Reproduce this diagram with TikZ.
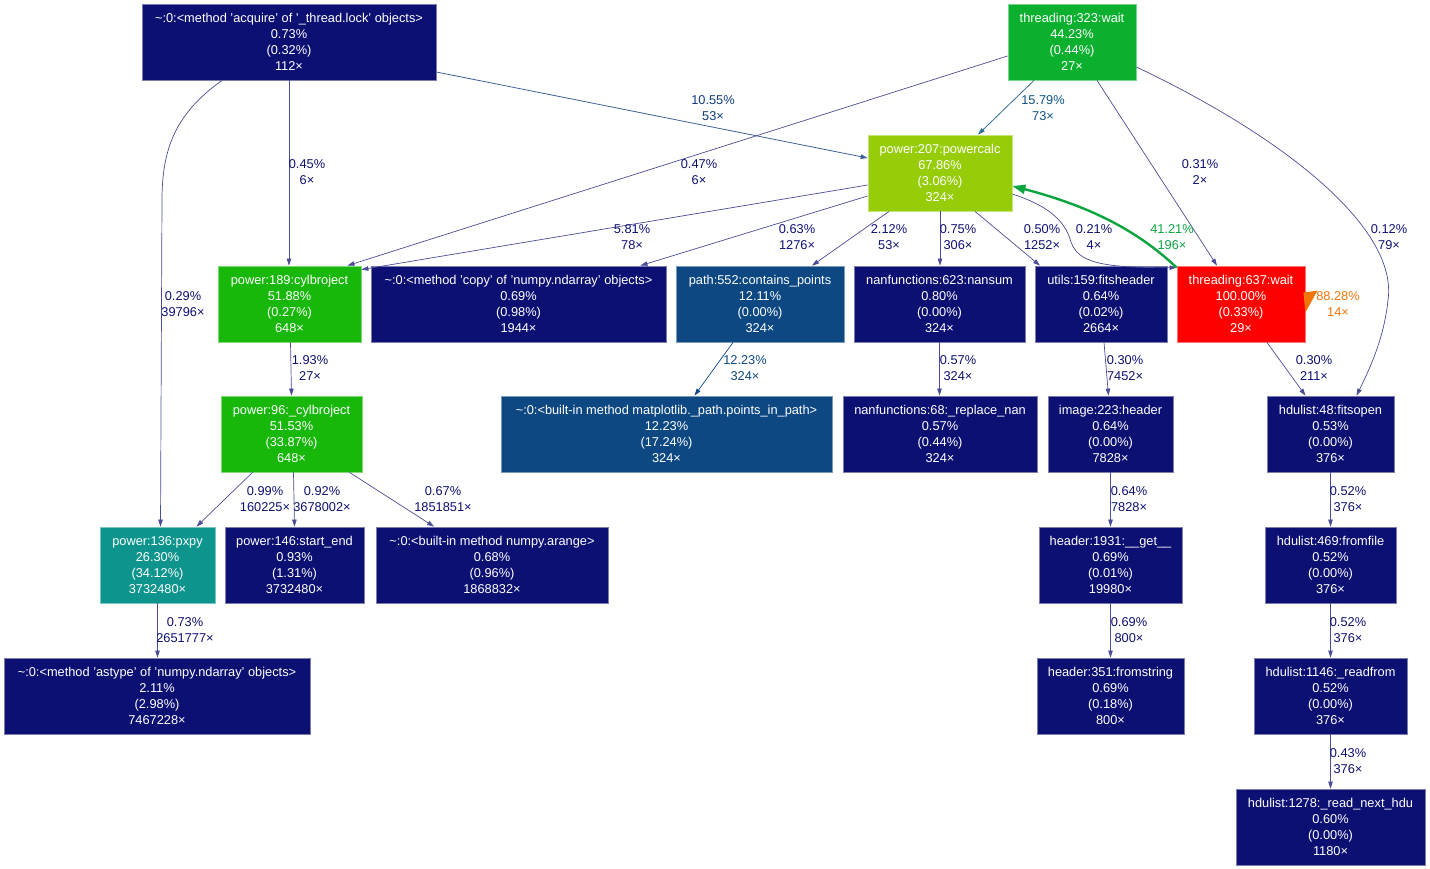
\documentclass[tikz,border=0pt]{standalone}
\usepackage{fontspec}
\setmainfont{Liberation Sans}
\usetikzlibrary{arrows.meta}
\definecolor{navy}{HTML}{0D1073}
\definecolor{gthr}{HTML}{0BB02F}
\definecolor{gpc}{HTML}{97CD08}
\definecolor{gcyl}{HTML}{18B80B}
\definecolor{bpath}{HTML}{0D4883}
\definecolor{tpx}{HTML}{0D948C}
\definecolor{rwait}{HTML}{FF0000}
\definecolor{eblueA}{HTML}{0D3A7E}
\definecolor{eblueB}{HTML}{0D5283}
\definecolor{egreen}{HTML}{0BA53F}
\definecolor{eorange}{HTML}{F07408}
\tikzset{
  fbox/.style={rectangle, draw=#1!55!white, fill=#1, line width=0.8pt, text=white,
    align=center, minimum height=76pt, inner sep=0pt,
    font=\fontsize{12.8}{16}\selectfont},
  elab/.style={align=center, inner sep=0pt, text=navy, font=\fontsize{12.8}{16}\selectfont},
  edge/.style={draw=navy!75!white, line width=0.7pt, -{Triangle[length=7pt,width=4.5pt]}},
}
\begin{document}
\begin{tikzpicture}[x=1pt,y=1pt]
\useasboundingbox (0,0) rectangle (1430,-869);
% nodes
\node[fbox=navy, minimum width=294pt] (acq) at (289,-42) {\textasciitilde:0:<method 'acquire' of '\_thread.lock' objects>\\0.73\%\\(0.32\%)\\112×};
\node[fbox=gthr, minimum width=128pt] (t323) at (1072,-42) {threading:323:wait\\44.23\%\\(0.44\%)\\27×};
\node[fbox=gpc, minimum width=144pt] (pc) at (940,-173) {power:207:powercalc\\67.86\%\\(3.06\%)\\324×};
\node[fbox=gcyl, minimum width=143pt] (cyl189) at (289.5,-304) {power:189:cylbroject\\51.88\%\\(0.27\%)\\648×};
\node[fbox=navy, minimum width=295pt] (copy) at (518.5,-304) {\textasciitilde:0:<method 'copy' of 'numpy.ndarray' objects>\\0.69\%\\(0.98\%)\\1944×};
\node[fbox=bpath, minimum width=168pt] (path) at (760,-304) {path:552:contains\_points\\12.11\%\\(0.00\%)\\324×};
\node[fbox=navy, minimum width=171pt] (nansum) at (939.5,-304) {nanfunctions:623:nansum\\0.80\%\\(0.00\%)\\324×};
\node[fbox=navy, minimum width=132pt] (utils) at (1101,-304) {utils:159:fitsheader\\0.64\%\\(0.02\%)\\2664×};
\node[fbox=rwait, minimum width=128pt] (t637) at (1241,-304) {threading:637:wait\\100.00\%\\(0.33\%)\\29×};
\node[fbox=gcyl, minimum width=141pt] (cyl96) at (291.5,-434) {power:96:\_cylbroject\\51.53\%\\(33.87\%)\\648×};
\node[fbox=bpath, minimum width=331pt] (pip) at (666.5,-434) {\textasciitilde:0:<built-in method matplotlib.\_path.points\_in\_path>\\12.23\%\\(17.24\%)\\324×};
\node[fbox=navy, minimum width=194pt] (rnan) at (940,-434) {nanfunctions:68:\_replace\_nan\\0.57\%\\(0.44\%)\\324×};
\node[fbox=navy, minimum width=125pt] (image) at (1110.5,-434) {image:223:header\\0.64\%\\(0.00\%)\\7828×};
\node[fbox=navy, minimum width=127pt] (fits) at (1330.5,-434) {hdulist:48:fitsopen\\0.53\%\\(0.00\%)\\376×};
\node[fbox=tpx, minimum width=115pt] (pxpy) at (157.5,-565) {power:136:pxpy\\26.30\%\\(34.12\%)\\3732480×};
\node[fbox=navy, minimum width=139pt] (start) at (294.5,-565) {power:146:start\_end\\0.93\%\\(1.31\%)\\3732480×};
\node[fbox=navy, minimum width=232pt] (arange) at (492,-565) {\textasciitilde:0:<built-in method numpy.arange>\\0.68\%\\(0.96\%)\\1868832×};
\node[fbox=navy, minimum width=143pt] (get) at (1110.5,-565) {header:1931:\_\_get\_\_\\0.69\%\\(0.01\%)\\19980×};
\node[fbox=navy, minimum width=131pt] (fromfile) at (1330.5,-565) {hdulist:469:fromfile\\0.52\%\\(0.00\%)\\376×};
\node[fbox=navy, minimum width=306pt] (astype) at (157,-696) {\textasciitilde:0:<method 'astype' of 'numpy.ndarray' objects>\\2.11\%\\(2.98\%)\\7467228×};
\node[fbox=navy, minimum width=147pt] (fromstring) at (1110.5,-696) {header:351:fromstring\\0.69\%\\(0.18\%)\\800×};
\node[fbox=navy, minimum width=153pt] (readfrom) at (1330.5,-696) {hdulist:1146:\_readfrom\\0.52\%\\(0.00\%)\\376×};
\node[fbox=navy, minimum width=189pt] (rnh) at (1330.5,-827) {hdulist:1278:\_read\_next\_hdu\\0.60\%\\(0.00\%)\\1180×};
% edges
\draw[edge, draw=eblueA!80!white, line width=0.8pt] ([yshift=-30]acq.east) -- ([yshift=15]pc.west);
\draw[edge] (acq.south) -- (cyl189.north -| acq.south);
\draw[edge] ([xshift=-67]acq.south) .. controls (178,-112) and (162,-145) .. (162,-200) -- ([xshift=3]pxpy.north);
\draw[edge, draw=eblueB!85!white, line width=0.8pt] ([xshift=-38]t323.south) -- ([xshift=38]pc.north);
\draw[edge] ([yshift=-14]t323.west) -- ([xshift=58]cyl189.north);
\draw[edge] ([xshift=25]t323.south) -- ([xshift=-24]t637.north);
\draw[edge] ([yshift=-25]t323.east) .. controls (1290,-140) and (1398,-230) .. (1388,-300) .. controls (1384,-340) and (1368,-372) .. ([xshift=26]fits.north);
\draw[edge] ([yshift=-12]pc.west) -- ([yshift=-4]cyl189.north east);
\draw[edge] ([yshift=-23]pc.west) -- ([xshift=122]copy.north);
\draw[edge] ([xshift=-51]pc.south) -- ([xshift=52]path.north);
\draw[edge] (pc.south) -- (nansum.north -| pc.south);
\draw[edge] ([xshift=35]pc.south) -- ([xshift=-61]utils.north);
\draw[edge] ([yshift=-21]pc.east) .. controls (1055,-208) and (1066,-225) .. (1071,-242) .. controls (1078,-262) and (1100,-268) .. ([yshift=-2]t637.north west);
\draw[draw=egreen, line width=2.4pt, -{Triangle[length=13pt,width=9pt]}] ([yshift=-2]t637.north west) .. controls (1135,-228) and (1085,-205) .. ([yshift=-13]pc.east);
\fill[eorange] ([shift={(-2,-27)}]t637.north east) -- ([shift={(12,-25)}]t637.north east) -- ([shift={(0,-47)}]t637.north east) -- cycle;
\draw[edge] ([xshift=26]t637.south) -- ([xshift=-25]fits.north);
\draw[edge] ([xshift=1]cyl189.south) -- (cyl96.north);
\draw[edge] ([xshift=-39]cyl96.south) -- ([xshift=39]pxpy.north);
\draw[edge] ([xshift=2]cyl96.south) -- (start.north);
\draw[edge] ([xshift=58]cyl96.south) -- ([xshift=-58]arange.north);
\draw[edge, draw=bpath] ([xshift=-27]path.south) -- ([xshift=28]pip.north);
\draw[edge] (nansum.south) -- (rnan.north -| nansum.south);
\draw[edge] ([xshift=3]utils.south) -- ([xshift=-2]image.north);
\draw[edge] (image.south) -- (get.north);
\draw[edge] (get.south) -- (fromstring.north);
\draw[edge] (fits.south) -- (fromfile.north);
\draw[edge] (fromfile.south) -- (readfrom.north);
\draw[edge] (readfrom.south) -- (rnh.north);
\draw[edge] (pxpy.south) -- (astype.north -| pxpy.south);
% edge labels
\node[elab, text=eblueA] (l1) at (713,-108) {10.55\%\\53×};
\node[elab] (l2) at (307,-172) {0.45\%\\6×};
\node[elab] (l3) at (183,-304) {0.29\%\\39796×};
\node[elab, text=eblueB] (l4) at (1043,-108) {15.79\%\\73×};
\node[elab] (l5) at (699,-172) {0.47\%\\6×};
\node[elab] (l6) at (1200,-172) {0.31\%\\2×};
\node[elab] (l7) at (1389,-237) {0.12\%\\79×};
\node[elab] (l8) at (632,-237) {5.81\%\\78×};
\node[elab] (l9) at (797,-237) {0.63\%\\1276×};
\node[elab] (l10) at (889,-237) {2.12\%\\53×};
\node[elab] (l11) at (958,-237) {0.75\%\\306×};
\node[elab] (l12) at (1042,-237) {0.50\%\\1252×};
\node[elab] (l13) at (1094,-237) {0.21\%\\4×};
\node[elab, text=egreen] (l14) at (1172,-237) {41.21\%\\196×};
\node[elab, text=eorange] (l15) at (1338,-304) {88.28\%\\14×};
\node[elab] (l16) at (310,-368) {1.93\%\\27×};
\node[elab, text=bpath] (l17) at (745,-368) {12.23\%\\324×};
\node[elab] (l18) at (958,-368) {0.57\%\\324×};
\node[elab] (l19) at (1125,-368) {0.30\%\\7452×};
\node[elab] (l20) at (1314,-368) {0.30\%\\211×};
\node[elab] (l21) at (265,-499) {0.99\%\\160225×};
\node[elab] (l22) at (322,-499) {0.92\%\\3678002×};
\node[elab] (l23) at (443,-499) {0.67\%\\1851851×};
\node[elab] (l24) at (1129,-499) {0.64\%\\7828×};
\node[elab] (l25) at (1348,-499) {0.52\%\\376×};
\node[elab] (l26) at (185,-630) {0.73\%\\2651777×};
\node[elab] (l27) at (1129,-630) {0.69\%\\800×};
\node[elab] (l28) at (1348,-630) {0.52\%\\376×};
\node[elab] (l29) at (1348,-761) {0.43\%\\376×};
\end{tikzpicture}
\end{document}
